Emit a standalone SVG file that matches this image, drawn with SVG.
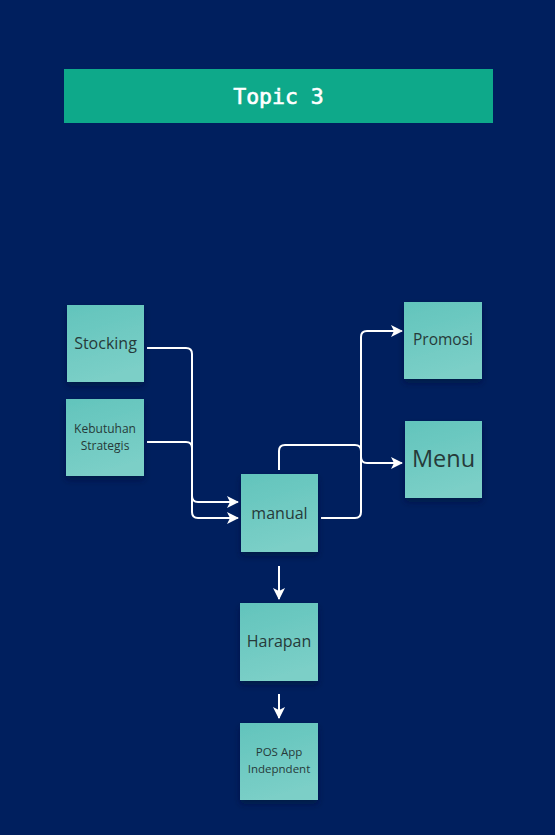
<svg xmlns="http://www.w3.org/2000/svg" width="555" height="835" viewBox="0 0 555 835">
<defs>
<linearGradient id="stk" x1="0" y1="0" x2="0.3" y2="1">
<stop offset="0" stop-color="#62c4bc"/>
<stop offset="1" stop-color="#7bcfc7"/>
</linearGradient>
<filter id="sh" x="-20%" y="-20%" width="140%" height="150%">
<feDropShadow dx="0" dy="4" stdDeviation="3" flood-color="#000a30" flood-opacity="0.5"/>
</filter>
<marker id="ah" viewBox="0 0 12 12" refX="11" refY="6" markerWidth="12" markerHeight="12" markerUnits="userSpaceOnUse" orient="auto">
<path d="M0,0 L12,6 L0,12 L3,6 z" fill="#ffffff"/>
</marker>
<style>
.sticky{fill:url(#stk);filter:url(#sh)}
.lbl{font-family:"Open Sans","Noto Sans",sans-serif;fill:#263a39;text-anchor:middle}
.con{fill:none;stroke:#ffffff;stroke-width:2;marker-end:url(#ah)}
</style>
</defs>
<rect width="555" height="835" fill="#001f5e"/>
<g id="title">
<rect x="64" y="69" width="429" height="54" fill="#0ea98a"/>
<text x="278.5" y="104" font-family="'DejaVu Sans Mono','Liberation Mono',monospace" font-size="21.5" fill="#ffffff" stroke="#ffffff" stroke-width="0.6" text-anchor="middle">Topic 3</text>
</g>
<g id="connectors">
<path class="con" d="M147,348 H186 Q192,348 192,354 V512 Q192,518 198,518 H238"/>
<path class="con" d="M147,442 H186 Q192,442 192,448 V496 Q192,502 198,502 H238"/>
<path class="con" d="M321,518 H355 Q361,518 361,512 V337 Q361,331 367,331 H402"/>
<path class="con" d="M279,470 V451 Q279,445 285,445 H355 Q361,445 361,451 V457 Q361,463 367,463 H402"/>
<path class="con" d="M279,566 V599"/>
<path class="con" d="M279,694 V718"/>
</g>
<g id="stocking">
<rect class="sticky" x="67" y="305" width="77" height="77"/>
<text class="lbl" x="105.5" y="349" font-size="16">Stocking</text>
</g>
<g id="kebutuhan">
<rect class="sticky" x="66" y="399" width="78" height="77"/>
<text class="lbl" x="105" y="433" font-size="12">Kebutuhan</text>
<text class="lbl" x="105" y="450" font-size="12">Strategis</text>
</g>
<g id="manual">
<rect class="sticky" x="241" y="474" width="77" height="78"/>
<text class="lbl" x="279.5" y="519" font-size="16">manual</text>
</g>
<g id="promosi">
<rect class="sticky" x="404" y="302" width="78" height="77"/>
<text class="lbl" x="443" y="345" font-size="15.5">Promosi</text>
</g>
<g id="menu">
<rect class="sticky" x="405" y="421" width="77" height="77"/>
<text class="lbl" x="443.5" y="467" font-size="23.5">Menu</text>
</g>
<g id="harapan">
<rect class="sticky" x="240" y="603" width="78" height="78"/>
<text class="lbl" x="279" y="647" font-size="16">Harapan</text>
</g>
<g id="pos">
<rect class="sticky" x="240" y="723" width="78" height="77"/>
<text class="lbl" x="279" y="756" font-size="11.5">POS App</text>
<text class="lbl" x="279" y="773" font-size="11.5">Indepndent</text>
</g>
</svg>
